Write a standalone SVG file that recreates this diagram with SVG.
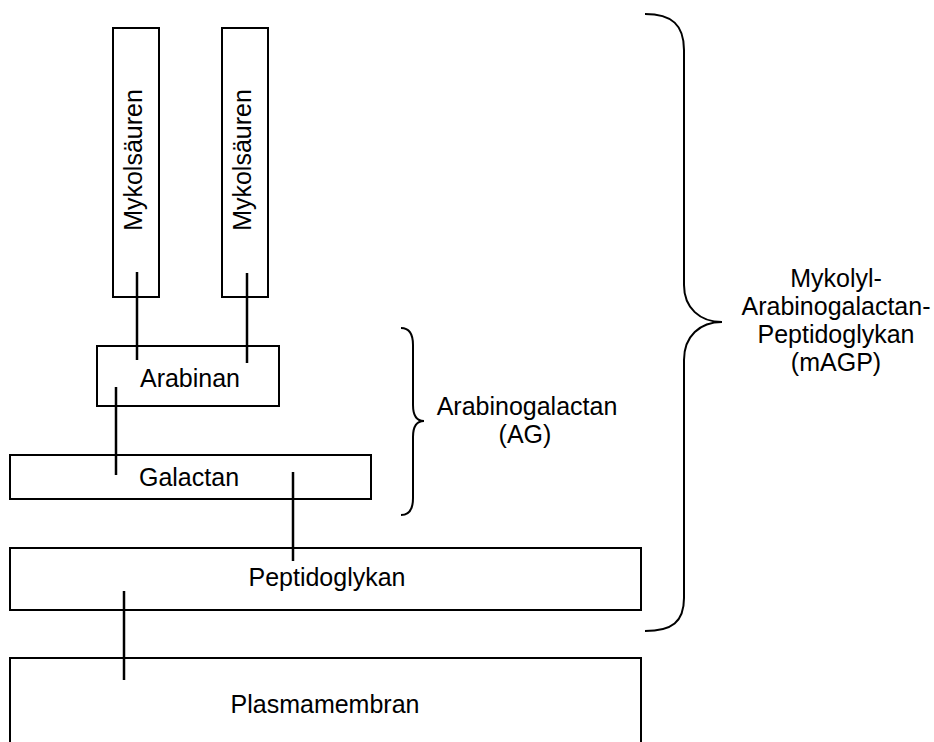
<svg xmlns="http://www.w3.org/2000/svg" width="934" height="742" viewBox="0 0 934 742">
<style>
.box{fill:#fff;stroke:#000;stroke-width:2}
.lbl{font-family:"Liberation Sans",Arial,sans-serif;font-size:25px;fill:#000;text-anchor:middle}
.con{stroke:#000;stroke-width:2.5;fill:none}
.brace{stroke:#000;stroke-width:2;fill:none}
</style>
<rect width="934" height="742" fill="#fff"/>
<g id="myk1"><rect class="box" x="113" y="28" width="46" height="269"/><text class="lbl" transform="translate(142,160) rotate(-90)">Mykolsäuren</text></g>
<g id="myk2"><rect class="box" x="222" y="28" width="46" height="269"/><text class="lbl" transform="translate(251,160) rotate(-90)">Mykolsäuren</text></g>
<g id="arabinan"><rect class="box" x="97" y="346" width="182" height="60"/><text class="lbl" x="190" y="387">Arabinan</text></g>
<g id="galactan"><rect class="box" x="10" y="455" width="361" height="44"/><text class="lbl" x="189" y="486">Galactan</text></g>
<g id="peptidoglykan"><rect class="box" x="10" y="548" width="631" height="62"/><text class="lbl" x="327" y="586">Peptidoglykan</text></g>
<g id="plasmamembran"><rect class="box" x="10" y="658" width="631" height="100"/><text class="lbl" x="325" y="713">Plasmamembran</text></g>
<g id="connectors">
<line class="con" x1="137" y1="272" x2="137" y2="360"/>
<line class="con" x1="247" y1="273" x2="247" y2="363"/>
<line class="con" x1="116" y1="387" x2="116" y2="475"/>
<line class="con" x1="293" y1="472" x2="293" y2="561"/>
<line class="con" x1="124" y1="591" x2="124" y2="680"/>
</g>
<g id="ag">
<path class="brace" d="M401,328 C410,328 413,335 413,345 L413,405 C413,415 416,421 424,421 C416,421 413,427 413,437 L413,498 C413,508 410,515 401,515"/>
<text class="lbl" x="527" y="415">Arabinogalactan</text>
<text class="lbl" x="525" y="443">(AG)</text>
</g>
<g id="magp">
<path class="brace" d="M645,14 C672,14 684,25 684,50 L684,285 C684,308 700,322 722,322 C700,322 684,336 684,360 L684,598 C684,622 672,631 645,631"/>
<text class="lbl" x="836" y="287">Mykolyl-</text>
<text class="lbl" x="836" y="315">Arabinogalactan-</text>
<text class="lbl" x="836" y="343">Peptidoglykan</text>
<text class="lbl" x="836" y="371">(mAGP)</text>
</g>
</svg>
